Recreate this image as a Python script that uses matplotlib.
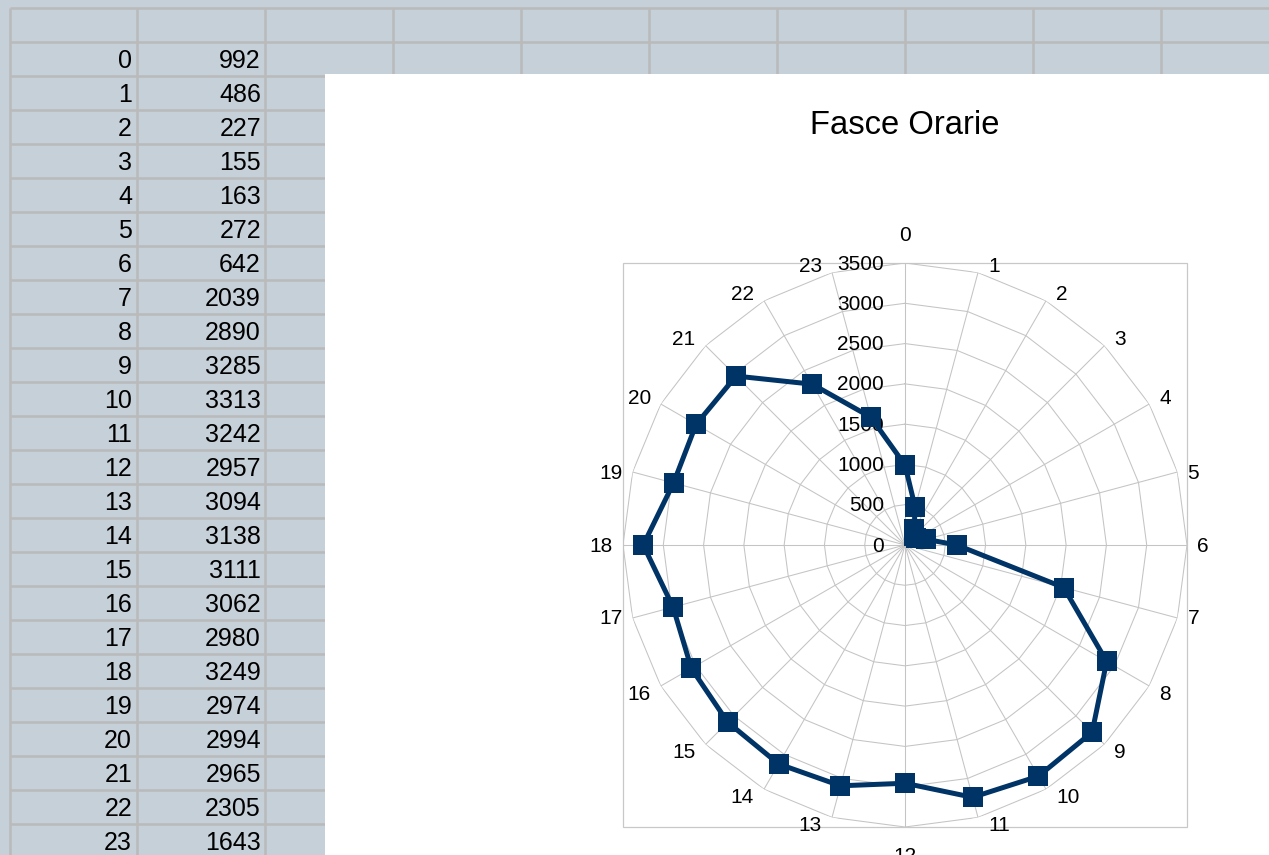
import matplotlib
matplotlib.use('Agg')
import matplotlib.pyplot as plt
import matplotlib.transforms as mtransforms
from matplotlib.patches import Rectangle
import numpy as np

# ---- data ----
hours = list(range(24))
counts = [992, 486, 227, 155, 163, 272, 642, 2039, 2890, 3285, 3313, 3242,
          2957, 3094, 3138, 3111, 3062, 2980, 3249, 2974, 2994, 2965, 2305, 1643]
r_ticks = [0, 500, 1000, 1500, 2000, 2500, 3000, 3500]
title = "Fasce Orarie"

plt.rcParams['font.family'] = ['Liberation Sans', 'DejaVu Sans']

W, H = 1269, 855
fig = plt.figure(figsize=(W / 100, H / 100), dpi=100)

# ---- spreadsheet background ----
bg = fig.add_axes([0, 0, 1, 1])
bg.set_xlim(0, W)
bg.set_ylim(H, 0)
bg.axis('off')
sheet_color = '#c6d0d8'
cell_line = '#bababa'
bg.add_patch(Rectangle((0, 0), W, H, color=sheet_color, zorder=0))

col_x = [10, 137, 265, 393, 521, 649, 777, 905, 1033, 1161, 1289]
row_top = 8
row_h = 34
n_rows = 26
for k in range(n_rows):
    y = row_top + k * row_h
    bg.plot([col_x[0], W], [y, y], color=cell_line, lw=1.8, zorder=1,
            solid_capstyle='butt')
for x in col_x:
    bg.plot([x, x], [row_top, H], color=cell_line, lw=1.8, zorder=1,
            solid_capstyle='butt')

# table values (first row empty, then hours / counts)
for i, (h, c) in enumerate(zip(hours, counts)):
    yc = row_top + (i + 1) * row_h + row_h / 2 + 2
    bg.text(col_x[1] - 5, yc, str(h), ha='right', va='center',
            fontsize=18, color='black', zorder=2)
    bg.text(col_x[2] - 4, yc, str(c), ha='right', va='center',
            fontsize=18, color='black', zorder=2)

# chart area (white)
bg.add_patch(Rectangle((325, 74.5), W - 325, H - 74.5, facecolor='white',
                       edgecolor='none', zorder=3))

# ---- radar chart ----
cx, cy, R = 905, 545, 282
bg.add_patch(Rectangle((cx - R, cy - R), 2 * R, 2 * R, facecolor='none',
                       edgecolor='#c8c8c8', lw=0.9, zorder=4))
bg.text(cx, 126, title, ha='center', va='center', fontsize=23.6,
        color='black', zorder=4)

pax = fig.add_axes([(cx - R) / W, (H - cy - R) / H, 2 * R / W, 2 * R / H],
                   projection='polar')
pax.patch.set_alpha(0)
pax.set_theta_zero_location('N')
pax.set_theta_direction(-1)
pax.set_ylim(0, r_ticks[-1])
pax.grid(False)
pax.spines['polar'].set_visible(False)
pax.set_xticks([])
pax.set_yticks([])

n = len(hours)
theta = np.array(hours) * 2 * np.pi / n
theta_c = np.append(theta, theta[0])

grid_color = '#c4c4c4'
for r in r_ticks[1:]:
    pax.plot(theta_c, [r] * (n + 1), color=grid_color, lw=0.75, zorder=1)
for t in theta:
    pax.plot([t, t], [0, r_ticks[-1]], color=grid_color, lw=0.75, zorder=1)

# radial labels
rl_trans = mtransforms.offset_copy(pax.transData, fig=fig, x=-21 * 0.72,
                                   y=-1 * 0.72, units='points')
for r in r_ticks:
    pax.text(0, r, str(r), transform=rl_trans, ha='right', va='center',
             fontsize=15, color='black', zorder=2)

# category labels
for t, h in zip(theta, hours):
    s, c = np.sin(t), np.cos(t)
    lab = str(h)
    hw = 5.8 * len(lab)
    if abs(s) < 0.01:
        dx = 0.0
        dy = 29 * np.sign(c)
    else:
        dx = np.sign(s) * (10 + hw)
        dy = 7 * np.sign(c) if abs(c) >= 0.49 else 0.0
    tr = mtransforms.offset_copy(pax.transData, fig=fig, x=dx * 0.72,
                                 y=(dy - 1) * 0.72, units='points')
    pax.text(t, r_ticks[-1], lab, transform=tr, ha='center', va='center',
             fontsize=15, color='black', zorder=2, clip_on=False)

# data
navy = '#003366'
pax.plot(theta_c, counts + counts[:1], color=navy, lw=3.6, marker='s',
         markersize=14.4, markeredgewidth=0, zorder=5, clip_on=False)

fig.savefig('out.png', dpi=100)
